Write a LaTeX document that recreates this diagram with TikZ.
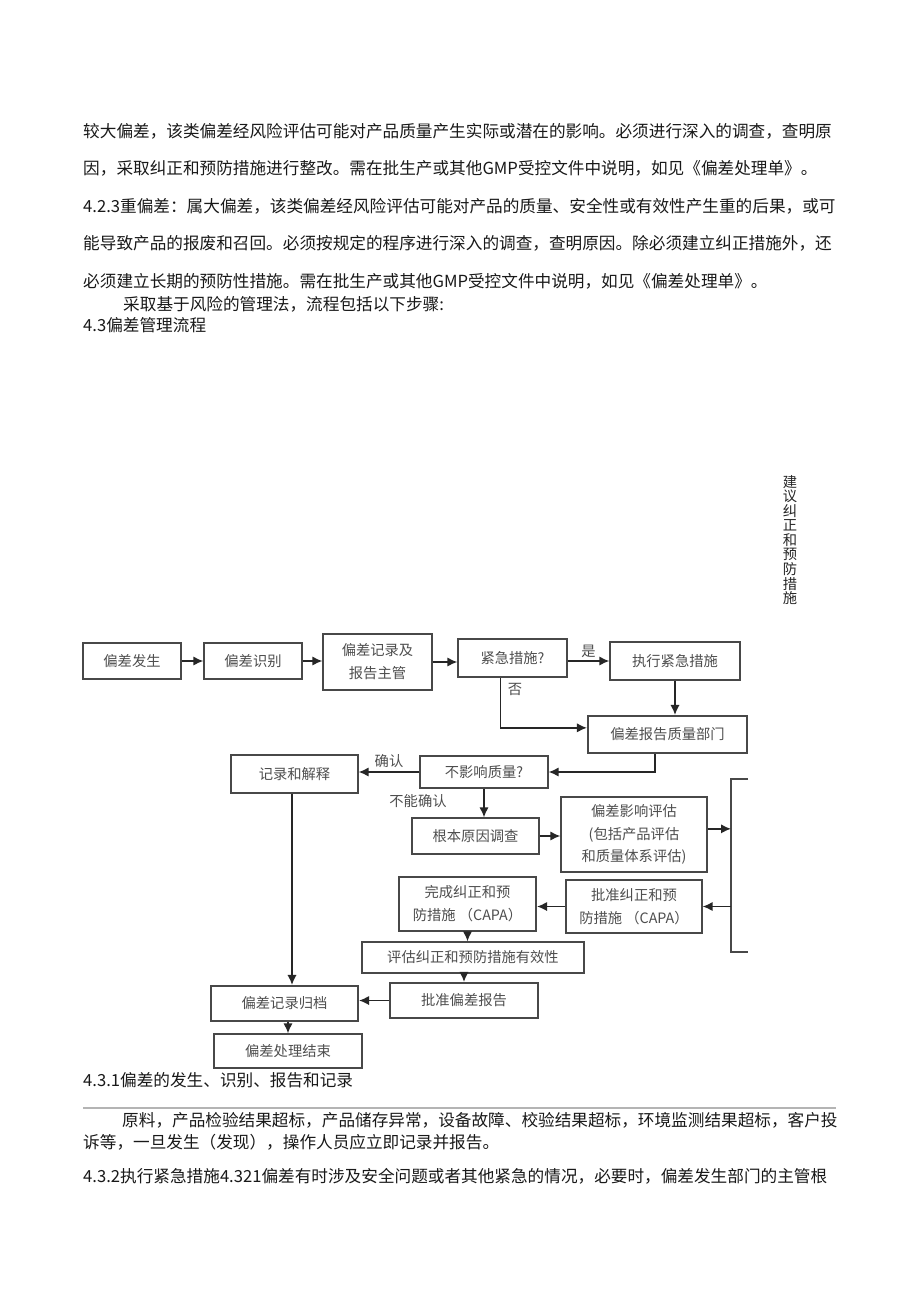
\documentclass[tikz,border=0pt]{standalone}
\usepackage{fontspec}
\setmainfont{Noto Sans CJK SC}
\usetikzlibrary{arrows.meta,positioning}

\definecolor{boxline}{HTML}{484848}
\definecolor{boxtext}{HTML}{4E4E4E}
\definecolor{rulegray}{HTML}{B4B4B4}

\newcommand{\bodyfont}{\fontsize{14.2}{17}\selectfont}
\newcommand{\boxfont}{\fontsize{12.2}{19.5}\selectfont}

\tikzset{
    sz/.style 2 args={minimum width=#1*0.03cm, minimum height=#2*0.03cm}
}

\begin{document}
\begin{tikzpicture}[x=0.03cm,y=-0.03cm,
    box/.style={draw=boxline, line width=1.1pt, fill=white, text=boxtext, font=\boxfont, align=center, inner sep=0pt},
    heavy/.style={line width=1.8pt},
    arr/.style={draw=black!85, line width=1.4pt, -{Latex[length=3mm,width=2.8mm]}},
    lbl/.style={font=\boxfont, text=boxtext, inner sep=0pt},
    txt/.style={anchor=west, font=\bodyfont, text=black!90, inner sep=0pt}]

    % page
    \fill[white] (0,0) rectangle (920,1303);
    \useasboundingbox (0,0) rectangle (920,1303);

    % text above the chart
    \node[txt] (p1) at (83,131) {较大偏差，该类偏差经风险评估可能对产品质量产生实际或潜在的影响。必须进行深入的调查，查明原};
    \node[txt] (p2) at (83,168) {因，采取纠正和预防措施进行整改。需在批生产或其他GMP受控文件中说明，如见《偏差处理单》。};
    \node[txt] (p3) at (83,206) {4.2.3重偏差：属大偏差，该类偏差经风险评估可能对产品的质量、安全性或有效性产生重的后果，或可};
    \node[txt] (p4) at (83,243) {能导致产品的报废和召回。必须按规定的程序进行深入的调查，查明原因。除必须建立纠正措施外，还};
    \node[txt] (p5) at (83,281) {必须建立长期的预防性措施。需在批生产或其他GMP受控文件中说明，如见《偏差处理单》。};
    \node[txt] (p6) at (123,304) {采取基于风险的管理法，流程包括以下步骤:};
    \node[txt] (p7) at (83,325) {4.3偏差管理流程};

    % side note
    \node[font=\fontsize{12.2}{12.4}\selectfont, text=black!85, align=center, inner sep=0pt] (side) at (790,540) {建\\议\\纠\\正\\和\\预\\防\\措\\施};

    % first row
    \node[box, sz={98}{36}] (occur) at (132,661) {偏差发生};
    \node[box, sz={98}{36}] (ident) at (253,661) {偏差识别};
    \node[box, sz={109}{56}] (record) at (377.5,662) {偏差记录及\\报告主管};
    \node[box, sz={109}{38}] (urgent) at (512.5,658) {紧急措施?};
    \node[box, sz={130}{38}] (exec) at (675,661) {执行紧急措施};
    \node[box, heavy, sz={159}{37}] (report) at (667.5,734.5) {偏差报告质量部门};

    % evaluation
    \node[box, sz={128}{32}] (affect) at (484,772) {不影响质量?};
    \node[box, sz={127}{38}] (explain) at (294.5,774) {记录和解释};
    \node[box, sz={127}{36}] (root) at (475.5,836) {根本原因调查};
    \node[box, sz={146}{75}] (assess) at (634,834.5) {偏差影响评估\\(包括产品评估\\和质量体系评估)};
    \node[box, sz={136}{53}] (approve) at (634,906.5) {批准纠正和预\\防措施 （CAPA）};
    \node[box, heavy, sz={137}{54}] (finish) at (467.5,904) {完成纠正和预\\防措施 （CAPA）};
    \node[box, sz={222}{31}] (evaluate) at (473,957.5) {评估纠正和预防措施有效性};
    \node[box, heavy, sz={148}{35}] (approverep) at (464,1000.5) {批准偏差报告};
    \node[box, heavy, sz={147}{35}] (archive) at (284.5,1003.5) {偏差记录归档};
    \node[box, sz={148}{34}] (close) at (288,1051) {偏差处理结束};

    % open frame on the right
    \coordinate (brtop) at (748,779);
    \coordinate (brbot) at (748,952);
    \coordinate (brL) at (731,779);
    \draw[boxline, line width=1.1pt] (brtop) -- (brL) -- (brL |- brbot) -- (brbot);

    % arrows
    \draw[arr] (occur.east) -- (occur.east -| ident.west);
    \draw[arr] (ident.east) -- (ident.east -| record.west);
    \draw[arr] (record.east) -- (record.east -| urgent.west);
    \draw[arr] (urgent.east |- exec.west) -- (exec.west) node[lbl, midway, above=2pt] {是};
    \draw[arr] (exec.south) -- (exec.south |- report.north);
    \draw[arr] ([xshift=-0.36cm]urgent.south) |- ([yshift=0.2cm]report.west);
    \node[lbl] (no) at (515,689) {否};
    \draw[arr] ([xshift=-0.375cm]report.south) |- (affect.east);
    \draw[arr] (affect.west) -- (explain.east |- affect.west) node[lbl, midway, above=3pt] {确认};
    \draw[arr] (affect.south) -- (affect.south |- root.north);
    \node[lbl] (cannot) at (418,801) {不能确认};
    \draw[arr] (root.east) -- (root.east -| assess.west);
    \draw[arr] ([yshift=0.17cm]assess.east) -- ([yshift=0.17cm]assess.east -| brL);
    \draw[arr] (approve.east -| brL) -- (approve.east);
    \draw[arr] (approve.west) -- (approve.west -| finish.east);
    \draw[arr] (finish.south) -- (finish.south |- evaluate.north);
    \draw[arr] (approverep.north |- evaluate.south) -- (approverep.north);
    \draw[arr] (approverep.west) -- (approverep.west -| archive.east);
    \draw[arr] ([xshift=-0.075cm]explain.south) -- ([xshift=-0.075cm]explain.south |- archive.north);
    \draw[arr] (close.north |- archive.south) -- (close.north);

    % text below the chart
    \node[txt] (q1) at (83,1080) {4.3.1偏差的发生、识别、报告和记录};
    \draw[rulegray, line width=1pt] (83,1108) -- (836,1108);
    \node[txt] (q2) at (122,1120) {原料，产品检验结果超标，产品储存异常，设备故障、校验结果超标，环境监测结果超标，客户投};
    \node[txt] (q3) at (83,1142) {诉等，一旦发生（发现），操作人员应立即记录并报告。};
    \node[txt] (q4) at (83,1176) {4.3.2执行紧急措施4.321偏差有时涉及安全问题或者其他紧急的情况，必要时，偏差发生部门的主管根};
\end{tikzpicture}
\end{document}
